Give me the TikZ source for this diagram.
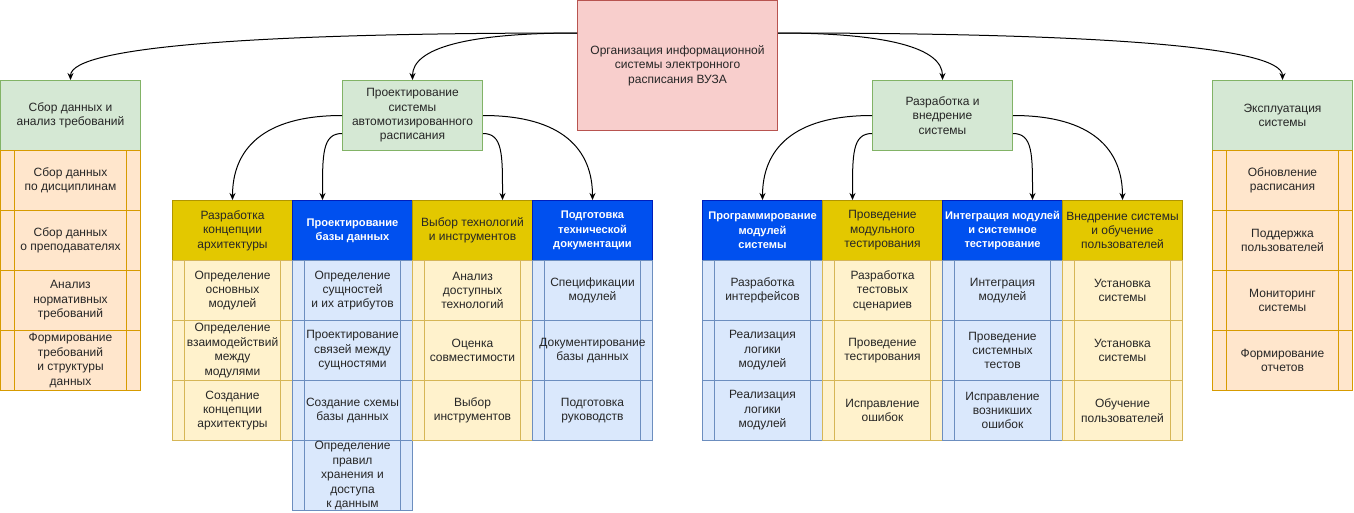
\documentclass[tikz,border=0pt]{standalone}
\usepackage{fontspec}
\setmainfont{Liberation Sans}
\usepackage{xcolor}
\usetikzlibrary{arrows.meta, calc}

\definecolor{rootF}{HTML}{F8CECC}
\definecolor{rootD}{HTML}{B85450}
\definecolor{grnF}{HTML}{D5E8D4}
\definecolor{grnD}{HTML}{82B366}
\definecolor{orgF}{HTML}{FFE6CC}
\definecolor{orgD}{HTML}{D79B00}
\definecolor{ylwF}{HTML}{E3C800}
\definecolor{ylwD}{HTML}{B09500}
\definecolor{ltyF}{HTML}{FFF2CC}
\definecolor{ltyD}{HTML}{D6B656}
\definecolor{bluF}{HTML}{0050EF}
\definecolor{bluD}{HTML}{001DBC}
\definecolor{ltbF}{HTML}{DAE8FC}
\definecolor{ltbD}{HTML}{6C8EBF}

\newcommand{\dfont}{\fontsize{12pt}{14.4pt}\selectfont}
\newcommand{\hfont}{\fontsize{11.1pt}{14.4pt}\selectfont\bfseries}

\begin{document}
\begin{tikzpicture}[x=1pt, y=1pt,
  box/.style={draw, line width=1pt, inner sep=1pt, align=center, anchor=north west, text=black!85, font=\dfont},
  bars/.style={path picture={
    \draw[line width=1pt, #1] ($(path picture bounding box.north west)!0.1!(path picture bounding box.north east)$) -- ($(path picture bounding box.south west)!0.1!(path picture bounding box.south east)$);
    \draw[line width=1pt, #1] ($(path picture bounding box.north east)!0.1!(path picture bounding box.north west)$) -- ($(path picture bounding box.south east)!0.1!(path picture bounding box.south west)$);
  }},
  goal/.style={box, fill=rootF, draw=rootD, minimum width=200pt, minimum height=130pt},
  phase/.style={box, fill=grnF, draw=grnD, minimum width=140pt, minimum height=70pt},
  item/.style={box, fill=orgF, draw=orgD, minimum width=140pt, minimum height=60pt, bars=orgD},
  hdrY/.style={box, fill=ylwF, draw=ylwD, minimum width=120pt, minimum height=60pt},
  hdrB/.style={box, fill=bluF, draw=bluD, text=white, font=\hfont, minimum width=120pt, minimum height=60pt},
  taskY/.style={box, fill=ltyF, draw=ltyD, minimum width=120pt, minimum height=60pt, bars=ltyD},
  taskB/.style={box, fill=ltbF, draw=ltbD, minimum width=120pt, minimum height=60pt, bars=ltbD},
  conn/.style={-{Stealth[length=7pt,width=6pt]}, line width=1pt, black}]
\useasboundingbox (0,0) rectangle (1354,-512);

% Goal
\node[goal] (root) at (577,0) {Организация информационной\\системы электронного\\расписания ВУЗА};

% Сбор данных
\node[phase] (collect) at (0,-80) {Сбор данных и\\анализ требований};
\foreach \t [count=\i] in {{Сбор данных\\по дисциплинам}, {Сбор данных\\о преподавателях}, {Анализ\\нормативных\\требований}, {Формирование\\требований\\и структуры\\данных}} {
  \node[item] (collect-\i) at (0,{-150-60*(\i-1)}) {\t};
}

% Проектирование
\node[phase] (design) at (342,-80) {Проектирование\\системы\\автомотизированного\\расписания};
\node[hdrY] (design-1) at (172,-200) {Разработка\\концепции\\архитектуры};
\foreach \t [count=\i] in {{Определение\\основных\\модулей}, {Определение\\взаимодействий\\между\\модулями}, {Создание\\концепции\\архитектуры}} {
  \node[taskY] (design-1-\i) at (172,{-260-60*(\i-1)}) {\t};
}
\node[hdrB] (design-2) at (292,-200) {Проектирование\\базы данных};
\foreach \t [count=\i] in {{Определение\\сущностей\\и их атрибутов}, {Проектирование\\связей между\\сущностями}, {Создание схемы\\базы данных}} {
  \node[taskB] (design-2-\i) at (292,{-260-60*(\i-1)}) {\t};
}
\node[taskB, minimum height=70pt] (design-2-4) at (292,-440) {Определение\\правил\\хранения и\\доступа\\к данным};
\node[hdrY] (design-3) at (412,-200) {Выбор технологий\\и инструментов};
\foreach \t [count=\i] in {{Анализ\\доступных\\технологий}, {Оценка\\совместимости}, {Выбор\\инструментов}} {
  \node[taskY] (design-3-\i) at (412,{-260-60*(\i-1)}) {\t};
}
\node[hdrB] (design-4) at (532,-200) {Подготовка\\технической\\документации};
\foreach \t [count=\i] in {{Спецификации\\модулей}, {Документирование\\базы данных}, {Подготовка\\руководств}} {
  \node[taskB] (design-4-\i) at (532,{-260-60*(\i-1)}) {\t};
}

% Разработка и внедрение
\node[phase] (develop) at (872,-80) {Разработка и\\внедрение\\системы};
\node[hdrB] (develop-1) at (702,-200) {Программирование\\модулей\\системы};
\foreach \t [count=\i] in {{Разработка\\интерфейсов}, {Реализация\\логики\\модулей}, {Реализация\\логики\\модулей}} {
  \node[taskB] (develop-1-\i) at (702,{-260-60*(\i-1)}) {\t};
}
\node[hdrY] (develop-2) at (822,-200) {Проведение\\модульного\\тестирования};
\foreach \t [count=\i] in {{Разработка\\тестовых\\сценариев}, {Проведение\\тестирования}, {Исправление\\ошибок}} {
  \node[taskY] (develop-2-\i) at (822,{-260-60*(\i-1)}) {\t};
}
\node[hdrB] (develop-3) at (942,-200) {Интеграция модулей\\и системное\\тестирование};
\foreach \t [count=\i] in {{Интеграция\\модулей}, {Проведение\\системных\\тестов}, {Исправление\\возникших\\ошибок}} {
  \node[taskB] (develop-3-\i) at (942,{-260-60*(\i-1)}) {\t};
}
\node[hdrY] (develop-4) at (1062,-200) {Внедрение системы\\и обучение\\пользователей};
\foreach \t [count=\i] in {{Установка\\системы}, {Установка\\системы}, {Обучение\\пользователей}} {
  \node[taskY] (develop-4-\i) at (1062,{-260-60*(\i-1)}) {\t};
}

% Эксплуатация
\node[phase] (operate) at (1212,-80) {Эксплуатация\\системы};
\foreach \t [count=\i] in {{Обновление\\расписания}, {Поддержка\\пользователей}, {Мониторинг\\системы}, {Формирование\\отчетов}} {
  \node[item] (operate-\i) at (1212,{-150-60*(\i-1)}) {\t};
}

% connectors
\draw[conn] ([yshift=-33pt]root.north west) .. controls +(-300,0) and +(0,35) .. (collect.north);
\draw[conn] ([yshift=-33pt]root.north west) .. controls +(-110,0) and +(0,32) .. (design.north);
\draw[conn] ([yshift=-33pt]root.north east) .. controls +(110,0) and +(0,32) .. (develop.north);
\draw[conn] ([yshift=-33pt]root.north east) .. controls +(300,0) and +(0,35) .. (operate.north);

\draw[conn] (design.west) .. controls +(-80,0) and +(0,50) .. (design-1.north);
\draw[conn] ([yshift=-18pt]design.west) .. controls +(-20,0) and +(0,45) .. ([xshift=-30pt]design-2.north);
\draw[conn] ([yshift=-18pt]design.east) .. controls +(20,0) and +(0,45) .. ([xshift=30pt]design-3.north);
\draw[conn] (design.east) .. controls +(80,0) and +(0,50) .. (design-4.north);

\draw[conn] (develop.west) .. controls +(-80,0) and +(0,50) .. (develop-1.north);
\draw[conn] ([yshift=-18pt]develop.west) .. controls +(-20,0) and +(0,45) .. ([xshift=-30pt]develop-2.north);
\draw[conn] ([yshift=-18pt]develop.east) .. controls +(20,0) and +(0,45) .. ([xshift=30pt]develop-3.north);
\draw[conn] (develop.east) .. controls +(80,0) and +(0,50) .. (develop-4.north);
\end{tikzpicture}
\end{document}
